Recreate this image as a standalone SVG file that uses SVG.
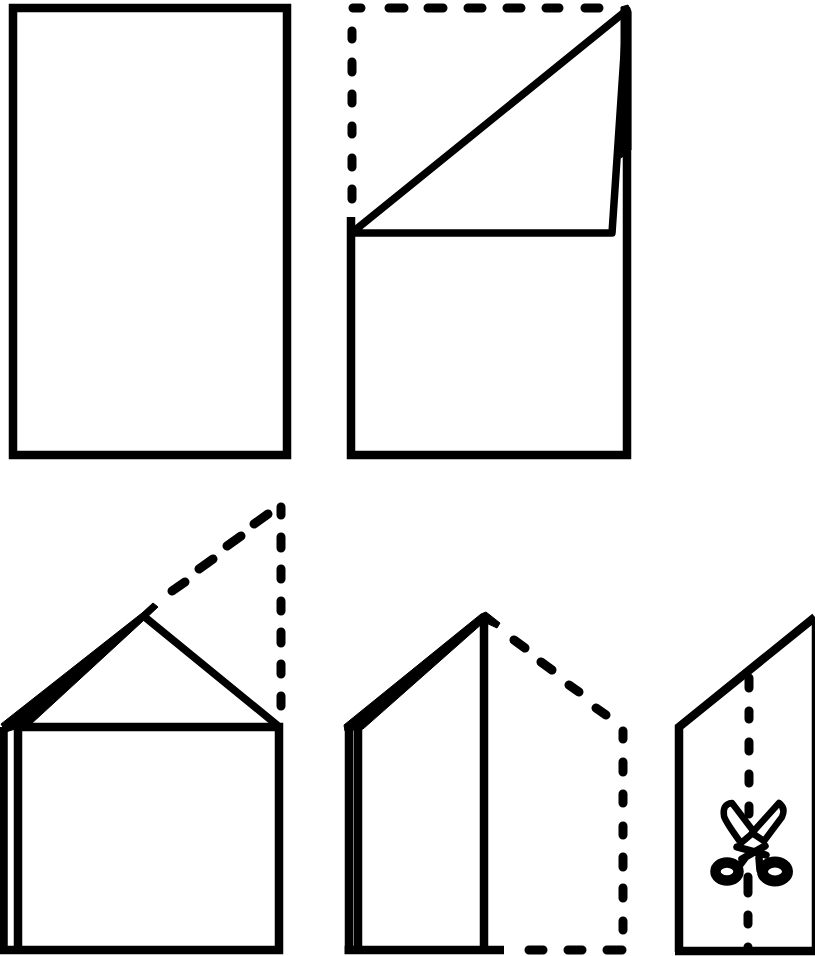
<svg xmlns="http://www.w3.org/2000/svg" width="815" height="956" viewBox="0 0 815 956">
<style>
.s{fill:none;stroke:#000;stroke-width:8.5;stroke-linecap:butt;stroke-linejoin:miter}
.t{fill:none;stroke:#000;stroke-width:7.5;stroke-linecap:round;stroke-linejoin:round}
.d{fill:none;stroke:#000;stroke-width:9;stroke-linecap:round}
.f{fill:#000;stroke:#000;stroke-width:1;stroke-linejoin:round}
</style>
<rect width="815" height="956" fill="#fff"/>
<g id="step1"><rect class="s" x="13" y="8" width="274" height="447"/></g>
<g id="step2">
<path class="s" d="M351 217V455H627V10"/>
<path class="t" d="M352 233H612L627 10L354 231"/>
<path class="f" d="M621 7L628 5L631 12V150L621 158Z"/>
<path class="d" d="M353 8H361M389 8H404M428 8H443M468 8H482M507 8H521M546 8H559M585 8H599M352 31V39M352 62V72M352 94V103M352 126V134M352 158V167M352 189V199"/>
</g>
<g id="step3">
<path class="s" d="M3.5 727V950M18 727V950M0 950H279V727H18"/>
<path class="t" d="M146 618L277 725"/>
<path class="f" d="M1 724L142 613L153 603L158 607L143 621L30 725L12 730L6 732Z"/>
<path class="d" d="M254 524L268 514M227 546L241 536M199 569L213 559M172 591L185 582M281 507V515M281 537V548M281 569V579M281 601V611M281 632V643M281 664V674M281 696V706"/>
</g>
<g id="step4">
<path class="s" d="M349 950V727M358 950V727M344.500 950H504M484 950V620"/>
<path class="f" d="M344 725L481 614L486 612L500 623L497 628L484 622L363 729L345 731Z"/>
<path class="d" d="M514 640L525 648M541 662L552 670M569 685L579 692M596 708L606 715M623 731V739M623 762V772M623 794V803M623 826V835M623 857V867M623 888V898M623 921V930M529 950H543M568 950H582M607 950H622"/>
</g>
<g id="step5">
<path class="s" d="M679 952V727L815 617M675 951H815"/>
<path class="s" style="stroke-width:3.5" d="M813.5 620V950"/>
<path class="d" d="M749 678V688M749 711V719M749 742V751M749 774V783M749 806V814M748 877V893M748 915V924M748 947V950"/>
<g id="scissors">
<path d="M732 803Q722 804 724 816Q725 821 741 843L754 832Z" fill="#fff" stroke="#000" stroke-width="6.500" stroke-linejoin="round"/>
<path d="M779 803Q786 808 782 817L764 841L752 833Z" fill="#fff" stroke="#000" stroke-width="6.500" stroke-linejoin="round"/>
<path class="t" d="M737 847L766 855M765 846L742 859M745 858L739 866M759 858L760 870"/>
<ellipse cx="727" cy="871.5" rx="11.5" ry="9" fill="#fff" stroke="#000" stroke-width="10.500"/>
<ellipse cx="775" cy="871.5" rx="12.5" ry="9.5" fill="#fff" stroke="#000" stroke-width="11"/>
</g>
</g>
</svg>
